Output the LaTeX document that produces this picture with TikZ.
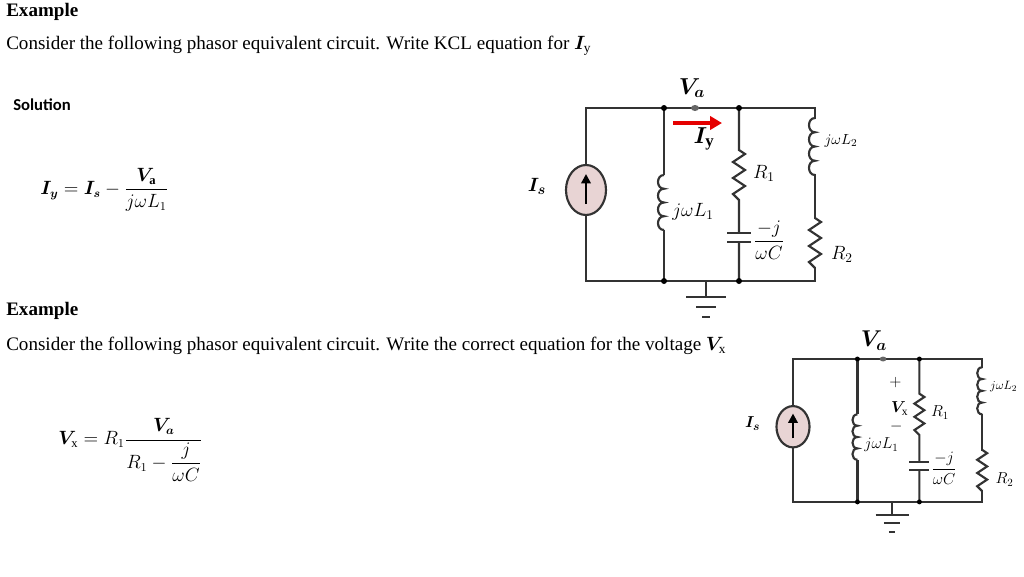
\documentclass[tikz,border=0pt]{standalone}
\usepackage{amsmath,bm}
\usepackage{fontspec}
\setmainfont{Liberation Serif}
\newfontfamily\solfont{Carlito}
\usetikzlibrary{arrows.meta}
\definecolor{srcfill}{RGB}{232,212,212}
\tikzset{wire/.style={line width=1.6pt,color=black!80},
 lbl/.style={font=\fontsize{14}{15}\selectfont,inner sep=0pt},
 hdr/.style={anchor=west,inner sep=0pt,font=\fontsize{14.3}{16}\selectfont}}
\newcommand\mycirc{%
 \draw[wire] (0,0) rectangle (229,173);
 \draw[wire] (78,0)--(78,67) (78,122)--(78,173);
 \draw[wire] (78,67) foreach \k in {0,1,2,3}{ .. controls (70,67+\k*13.75) and (70,67+\k*13.75+13.75) .. (78,67+\k*13.75+13.75)};
 \draw[wire] (153,0)--(153,42) -- (159,46) -- (147,54) -- (159,62) -- (147,70) -- (159,78) -- (147,86) -- (153,92) -- (153,125) (153,134)--(153,173);
 \draw[wire] (141,125)--(165,125) (141,134)--(165,134);
 \draw[wire,draw=white,line width=3pt] (229,11)--(229,66);
 \draw[wire] (229,10) foreach \k in {0,1,2,3}{ .. controls (221,10+\k*14.25) and (221,10+\k*14.25+14.25) .. (229,10+\k*14.25+14.25)};
 \draw[wire,draw=white,line width=3pt] (229,111)--(229,159);
 \draw[wire] (229,110) -- (235,114) -- (223,122) -- (235,130) -- (223,138) -- (235,146) -- (223,154) -- (229,160);
 \draw[wire,draw=white,line width=3pt] (153,126)--(153,133);
 \draw[wire] (120,173)--(120,189) (100,189)--(140,189) (110,199)--(130,199) (116,209)--(124,209);
 \draw[wire,fill=srcfill] (0,82) ellipse (20 and 25);
 \draw[line width=1.8pt,-{Triangle[length=7,width=7]}] (0,96)--(0,66);
 \foreach \p in {(78,0),(153,0),(78,173),(153,173)} \fill \p circle (3);
 \fill[black!60] (109,0) ellipse (4 and 3);
 \node[lbl,font=\fontsize{15}{16}\selectfont] at (-49,78) {$\bm{I_s}$};
 \node[lbl] at (107,104) {$j\omega L_1$};
 \node[lbl] at (178,65) {$R_1$};
 \node[lbl] at (183,132) {$\dfrac{-j}{\omega C}$};
 \node[lbl,font=\fontsize{11}{12}\selectfont] at (255,33) {$j\omega L_2$};
 \node[lbl] at (256,146) {$R_2$};
}
\begin{document}
\begin{tikzpicture}[x=0.75pt,y=-0.75pt]
\useasboundingbox (0,0) rectangle (1024,576);
\node[hdr,font=\fontsize{14.3}{16}\selectfont\bfseries] (e1) at (6,12) {Example};
\node[hdr] (s1) at (6,46) {Consider the following phasor equivalent circuit. Write KCL equation for $\bm{I}_{\mathrm{y}}$};
\node[hdr,font=\solfont\fontsize{12.5}{14}\selectfont\bfseries] (sol) at (13,105) {Solution};
\node[hdr,font=\fontsize{13.5}{15}\selectfont] (eq1) at (40,190) {$\bm{I_y}=\bm{I_s}-\dfrac{\bm{V}_{\mathbf{a}}}{j\omega L_1}$};
\node[hdr,font=\fontsize{14.3}{16}\selectfont\bfseries] (e2) at (6,311) {Example};
\node[hdr] (s2) at (6,346) {Consider the following phasor equivalent circuit. Write the correct equation for the voltage $\bm{V}_{\mathrm{x}}$};
\node[hdr,font=\fontsize{13.5}{15}\selectfont] (eq2) at (58,450) {$\bm{V}_{\mathrm{x}}=R_1\dfrac{\bm{V_a}}{R_1-\dfrac{j}{\omega C}}$};
\begin{scope}[shift={(586,108)}]
 \mycirc
 \node[lbl,font=\fontsize{18}{19}\selectfont] (va1) at (106,-20) {$\bm{V_a}$};
 \draw[red!90!black,line width=3pt,-{Triangle[length=9,width=10]}] (87,15)--(136,15);
 \node[lbl,font=\fontsize{18}{19}\selectfont] (iy) at (118,31) {$\bm{I}_{\mathbf{y}}$};
\end{scope}
\begin{scope}[shift={(793,359)},scale=0.826,transform shape]
 \mycirc
 \node[lbl,font=\fontsize{20}{21}\selectfont] (va2) at (98,-22) {$\bm{V_a}$};
 \node[lbl,font=\fontsize{15}{16}\selectfont] (pl) at (124,28) {$+$};
 \node[lbl,font=\fontsize{15}{16}\selectfont] (vx) at (129,60) {$\bm{V}_{\mathrm{x}}$};
 \node[lbl,font=\fontsize{15}{16}\selectfont] (mi) at (125,82) {$-$};
\end{scope}
\end{tikzpicture}
\end{document}
